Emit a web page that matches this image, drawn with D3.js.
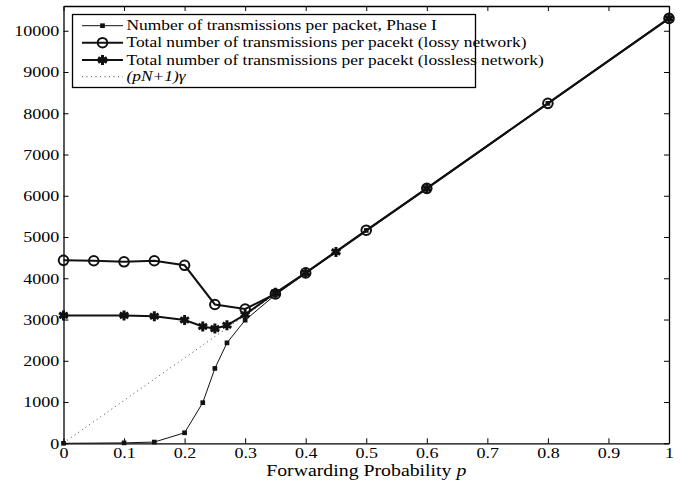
<!DOCTYPE html>
<html>
<head>
<meta charset="utf-8">
<script src="https://cdn.jsdelivr.net/npm/d3@7"></script>
<style>
  body { margin: 0; background: #fff; }
  svg text { font-family: "Liberation Serif", "Times New Roman", serif; fill: #000; }
</style>
</head>
<body>
<div id="root"></div>
<script>
// values
var pPhase1 = [0, 0.1, 0.15, 0.2, 0.23, 0.25, 0.27, 0.3, 0.35, 0.4, 0.45, 0.5, 0.6, 0.8, 1];
var phase1 = [0, 10, 30, 255, 985, 1815, 2435, 2985, 3600, 4120, 4640, 5160, 6180, 8240, 10300];

var pLossy = [0, 0.05, 0.1, 0.15, 0.2, 0.25, 0.3, 0.35, 0.4, 0.5, 0.6, 0.8, 1];
var lossy = [4435, 4425, 4400, 4425, 4315, 3365, 3255, 3620, 4130, 5165, 6180, 8240, 10300];

var pLossless = [0, 0.1, 0.15, 0.2, 0.23, 0.25, 0.27, 0.3, 0.35, 0.4, 0.45, 0.6, 1];
var lossless = [3100, 3100, 3080, 2990, 2830, 2780, 2860, 3120, 3650, 4135, 4640, 6180, 10300];

var pBound = [0, 1];
var bound = [10, 10310];

var xTicks = [0, 0.1, 0.2, 0.3, 0.4, 0.5, 0.6, 0.7, 0.8, 0.9, 1];
var yTicks = [0, 1000, 2000, 3000, 4000, 5000, 6000, 7000, 8000, 9000, 10000];

var legendLabels = [
  "Number of transmissions per packet, Phase I",
  "Total number of transmissions per pacekt (lossy network)",
  "Total number of transmissions per pacekt (lossless network)"
];

var w = 683, h = 481;
var mLeft = 63.5, mRight = 669, mTop = 6, mBottom = 443.3;
var stretch = "scale(1.2,1)";
var serif = "Liberation Serif, Times New Roman, serif";

var x = d3.scaleLinear().domain([0, 1]).range([mLeft, mRight]);
var y = d3.scaleLinear().domain([0, 10600]).range([mBottom, mTop]);

var svg = d3.select("#root").append("svg").attr("width", w).attr("height", h);

function zip(px, py) { return px.map(function(d, i) { return [d, py[i]]; }); }
var line = d3.line().x(function(d) { return x(d[0]); }).y(function(d) { return y(d[1]); });

// axes, matlab style: inward ticks on all four sides
var xAxis = svg.append("g").attr("transform", "translate(0," + mBottom + ")")
  .call(d3.axisBottom(x).tickValues(xTicks).tickSize(-5).tickSizeOuter(0).tickFormat(d3.format("")));
var xTop = svg.append("g").attr("transform", "translate(0," + mTop + ")")
  .call(d3.axisTop(x).tickValues(xTicks).tickSize(-5).tickSizeOuter(0).tickFormat(""));
var yAxis = svg.append("g").attr("transform", "translate(" + mLeft + ",0)")
  .call(d3.axisLeft(y).tickValues(yTicks).tickSize(-5).tickSizeOuter(0).tickFormat(d3.format("d")));
var yRight = svg.append("g").attr("transform", "translate(" + mRight + ",0)")
  .call(d3.axisRight(y).tickValues(yTicks).tickSize(-5).tickSizeOuter(0).tickFormat(""));

[xAxis, xTop, yAxis, yRight].forEach(function(g) {
  g.attr("font-family", serif);
  g.select(".domain").attr("stroke", "#000").attr("stroke-width", 1.3);
  g.selectAll(".tick line").attr("stroke", "#000").attr("stroke-width", 1);
});
xAxis.selectAll(".tick text").attr("font-size", 15).attr("transform", stretch).attr("y", 4).attr("dy", "0.72em");
yAxis.selectAll(".tick text").attr("font-size", 15).attr("x", -3.5).attr("transform", stretch);

svg.append("g").attr("transform", "translate(" + ((mLeft + mRight) / 2) + ",476)")
  .append("text").attr("transform", stretch).attr("text-anchor", "middle").attr("font-size", 16.5)
  .html("Forwarding Probability <tspan font-style='italic'>p</tspan>");

// series
svg.append("path").datum(zip(pBound, bound)).attr("d", line)
  .attr("fill", "none").attr("stroke", "#444").attr("stroke-width", 1).attr("stroke-dasharray", "1,3.5");

svg.append("path").datum(zip(pLossy, lossy)).attr("d", line)
  .attr("fill", "none").attr("stroke", "#111").attr("stroke-width", 2);
svg.append("path").datum(zip(pLossless, lossless)).attr("d", line)
  .attr("fill", "none").attr("stroke", "#111").attr("stroke-width", 2);
svg.append("path").datum(zip(pPhase1, phase1)).attr("d", line)
  .attr("fill", "none").attr("stroke", "#111").attr("stroke-width", 1);

var star = d3.symbol().type(d3.symbolAsterisk).size(70);
var sq = d3.symbol().type(d3.symbolSquare).size(22);

svg.selectAll("circle.lossy").data(zip(pLossy, lossy)).enter().append("circle")
  .attr("class", "lossy").attr("cx", function(d) { return x(d[0]); }).attr("cy", function(d) { return y(d[1]); })
  .attr("r", 4.8).attr("fill", "none").attr("stroke", "#111").attr("stroke-width", 2);

svg.selectAll("path.star").data(zip(pLossless, lossless)).enter().append("path")
  .attr("class", "star").attr("d", star)
  .attr("transform", function(d) { return "translate(" + x(d[0]) + "," + y(d[1]) + ")"; })
  .attr("fill", "none").attr("stroke", "#111").attr("stroke-width", 3);

svg.selectAll("path.sq").data(zip(pPhase1, phase1)).enter().append("path")
  .attr("class", "sq").attr("d", sq)
  .attr("transform", function(d) { return "translate(" + x(d[0]) + "," + y(d[1]) + ")"; })
  .attr("fill", "#111");

// legend
var lg = svg.append("g").attr("transform", "translate(72.5,14.5)").attr("font-family", serif);
lg.append("rect").attr("width", 403).attr("height", 73)
  .attr("fill", "#fff").attr("stroke", "#000").attr("stroke-width", 1.3);
var rowY = [11.2, 28.2, 45.5, 62.2];
var lx0 = 9.5, lx1 = 50.5;
[1, 2, 2].forEach(function(sw, i) {
  lg.append("line").attr("x1", lx0).attr("x2", lx1).attr("y1", rowY[i]).attr("y2", rowY[i])
    .attr("stroke", "#111").attr("stroke-width", sw);
});
lg.append("path").attr("d", sq).attr("transform", "translate(" + ((lx0 + lx1) / 2) + "," + rowY[0] + ")").attr("fill", "#111");
lg.append("circle").attr("cx", (lx0 + lx1) / 2).attr("cy", rowY[1]).attr("r", 4.8)
  .attr("fill", "none").attr("stroke", "#111").attr("stroke-width", 2);
lg.append("path").attr("d", star).attr("transform", "translate(" + ((lx0 + lx1) / 2) + "," + rowY[2] + ")")
  .attr("fill", "none").attr("stroke", "#111").attr("stroke-width", 3);
lg.append("line").attr("x1", lx0).attr("x2", lx1).attr("y1", rowY[3]).attr("y2", rowY[3])
  .attr("stroke", "#444").attr("stroke-width", 1).attr("stroke-dasharray", "1,3.5");

legendLabels.forEach(function(t, i) {
  lg.append("g").attr("transform", "translate(54," + rowY[i] + ")")
    .append("text").attr("transform", stretch).attr("font-size", 14.5).attr("dy", "0.33em").text(t);
});
lg.append("g").attr("transform", "translate(54," + rowY[3] + ")")
  .append("text").attr("transform", stretch).attr("font-size", 14.5).attr("dy", "0.33em").attr("font-style", "italic")
  .html("(pN+1)&#947;");
</script>
</body>
</html>
